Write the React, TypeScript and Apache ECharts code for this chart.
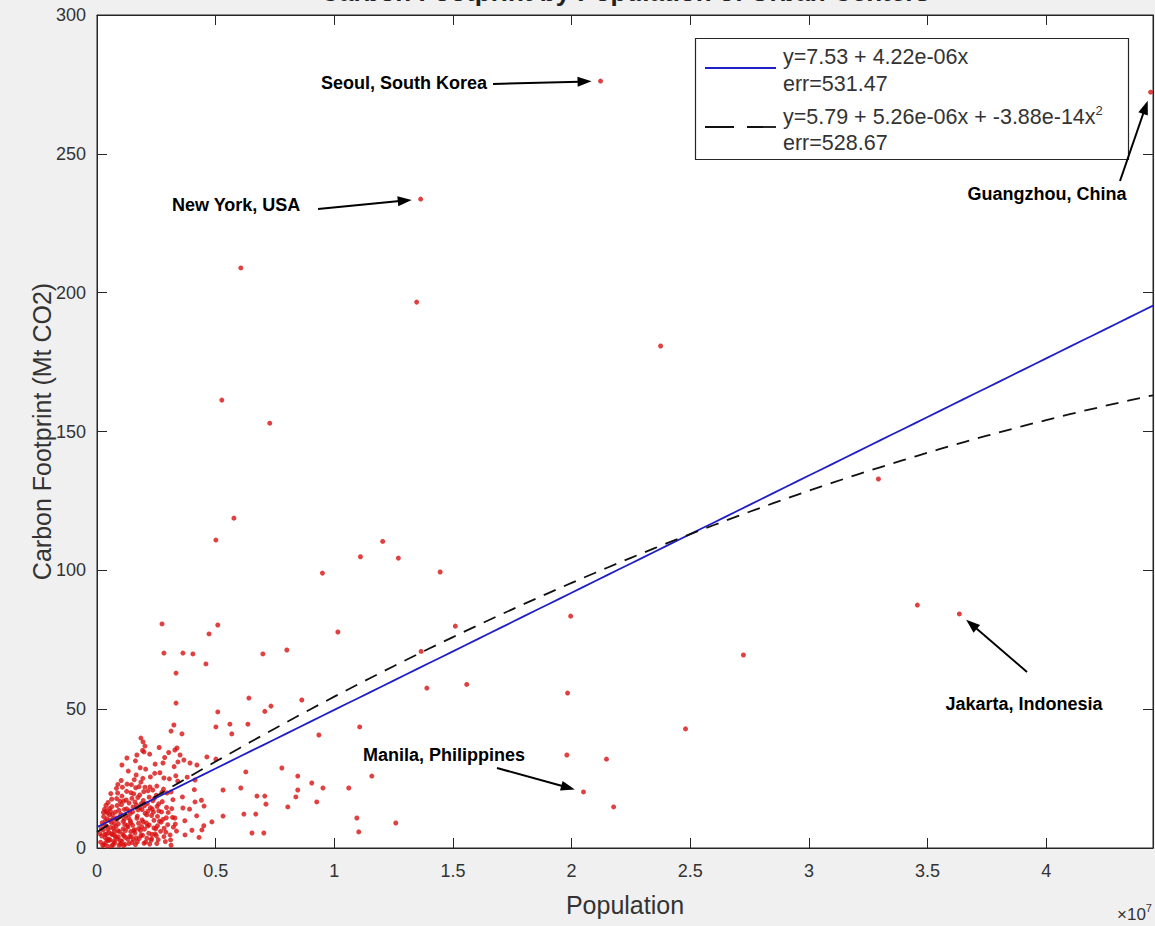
import React, { useEffect, useRef } from "react";
import * as echarts from "echarts";

// population in millions, carbon footprint in Mt CO2
const labelledCities: [string, number, number][] = [
  ["Seoul, South Korea", 21.22, 276.2],
  ["Guangzhou, China", 44.4, 272.2],
  ["New York, USA", 13.64, 233.7],
  ["Jakarta, Indonesia", 36.34, 84.3],
  ["Manila, Philippines", 20.5, 20.2],
];

const largeCities: [number, number][] = [
  [6.06, 208.9], [13.47, 196.6], [23.75, 180.8], [5.26, 161.3], [7.28, 153.0],
  [32.93, 132.9], [5.77, 118.8], [5.01, 110.9], [12.04, 110.4], [11.1, 104.9],
  [12.7, 104.4], [9.5, 99.0], [14.46, 99.4], [15.1, 79.9], [13.66, 70.8],
  [19.96, 83.5], [27.24, 69.5], [13.9, 57.6], [15.58, 58.9], [19.83, 55.8],
  [24.8, 42.9], [19.8, 33.5], [21.47, 32.0], [21.77, 14.8], [34.57, 87.5],
];

const midCities: [number, number][] = [
  [2.74, 80.7], [5.09, 80.3], [4.72, 77.1], [2.82, 70.2], [3.62, 70.2], [4.04, 69.9],
  [4.59, 66.3], [3.33, 63.0], [3.33, 52.2], [5.09, 49.0], [6.4, 54.0], [6.99, 69.9],
  [8.0, 71.3], [7.07, 49.2], [7.33, 51.1], [8.63, 53.3], [10.15, 77.8], [3.24, 44.3],
  [3.12, 42.1], [3.58, 41.1], [5.01, 43.6], [5.6, 44.6], [5.68, 41.1], [6.36, 44.6],
  [9.35, 40.7], [11.07, 43.6], [6.27, 27.4], [7.79, 28.8], [8.46, 25.9], [9.05, 23.4],
  [9.52, 21.6], [11.58, 25.9], [10.61, 21.6], [8.46, 20.9], [8.38, 18.4], [9.26, 16.6],
  [8.04, 14.8], [5.31, 20.9], [6.06, 21.6], [6.74, 18.7], [7.07, 18.7], [7.12, 15.8],
  [6.19, 12.2], [6.69, 12.2], [5.31, 11.5], [4.51, 15.1], [4.13, 16.6], [3.62, 14.4],
  [3.28, 10.8], [10.95, 10.8], [12.59, 9.0], [11.03, 5.8], [6.53, 5.4], [7.03, 5.4],
  [4.84, 9.4], [4.42, 6.5], [3.71, 4.7], [3.37, 36.0], [2.78, 30.6], [3.28, 35.3],
  [3.5, 33.5], [3.41, 31.0], [3.66, 31.7], [3.92, 30.6], [4.21, 29.9], [4.63, 32.8],
  [5.01, 32.0], [4.13, 24.5],
];

const smallCities: [number, number][] = [
  [0.5, 3.2], [0.6, 5.1], [0.7, 2.4], [0.8, 7.8], [0.9, 4.0], [1.0, 1.5], [1.1, 9.6], [1.2, 6.3],
  [1.3, 3.1], [1.4, 12.4], [1.5, 8.2], [1.6, 5.4], [1.7, 2.2], [1.8, 14.6], [1.9, 10.1], [2.0, 6.8],
  [2.1, 3.5], [2.2, 18.3], [2.3, 11.7], [2.4, 7.2], [2.5, 4.4], [2.6, 15.9], [2.7, 9.3], [2.8, 21.2],
  [2.9, 5.7], [3.0, 12.8], [3.1, 2.9], [3.2, 17.4], [3.3, 8.6], [3.4, 24.1],
  [0.45, 6.7], [0.55, 9.9], [0.65, 12.1], [0.75, 4.6], [0.85, 15.3], [0.95, 11.2], [1.05, 18.7],
  [1.15, 13.9], [1.25, 20.4], [1.35, 16.2], [1.45, 22.8], [1.55, 19.5], [1.65, 26.3], [1.75, 8.9],
  [1.85, 23.7], [1.95, 17.1], [2.05, 28.4], [2.15, 13.3], [2.25, 25.6], [2.35, 20.9], [2.45, 30.2],
  [2.55, 11.4], [2.65, 27.1], [2.75, 16.7], [2.85, 32.6], [2.95, 19.8], [3.05, 24.9], [3.15, 14.2],
  [3.25, 29.3], [3.35, 6.1],
  [0.35, 1.8], [0.4, 4.9], [0.48, 2.7], [0.58, 7.4], [0.68, 1.1], [0.78, 3.9], [0.88, 6.2],
  [0.98, 2.6], [1.08, 5.0], [1.18, 1.3], [1.28, 8.1], [1.38, 4.2], [1.48, 2.0], [1.58, 6.6],
  [1.68, 10.7], [1.78, 3.4], [1.88, 7.7], [1.98, 1.7], [2.08, 9.0], [2.18, 5.3], [2.28, 2.8],
  [2.38, 12.9], [2.48, 7.0], [2.58, 3.0], [2.68, 6.0], [2.78, 10.3], [2.88, 2.3], [2.98, 8.4],
  [3.08, 4.7], [3.18, 11.0],
  [0.42, 10.5], [0.52, 14.2], [0.62, 17.6], [0.72, 8.8], [0.82, 21.5], [0.92, 13.6], [1.02, 24.3],
  [1.12, 16.9], [1.22, 11.8], [1.32, 27.7], [1.42, 5.9], [1.52, 14.8], [1.62, 31.4], [1.72, 18.2],
  [1.82, 28.9], [1.92, 35.1], [2.02, 21.9], [2.12, 16.0], [2.22, 33.8], [2.32, 4.9], [2.42, 17.9],
  [2.52, 22.3], [2.62, 36.2], [2.72, 13.0], [2.82, 25.2], [2.92, 10.9], [3.02, 34.4], [3.12, 20.2],
  [3.22, 7.5], [3.32, 26.0],
  [1.05, 29.9], [1.26, 32.4], [1.68, 33.5], [1.98, 34.6], [2.02, 36.7], [1.85, 39.6], [1.94, 38.2],
  [3.6, 18.4], [3.7, 9.8], [3.8, 25.5], [3.9, 14.0], [4.0, 6.4], [4.1, 21.0], [4.2, 11.6],
  [4.3, 3.8], [4.4, 17.2], [4.5, 8.0],
  [0.3, 8.3], [0.38, 13.1], [0.62, 0.8], [0.82, 10.2], [1.12, 0.9], [1.42, 9.1], [1.62, 1.2],
  [1.92, 4.6], [2.22, 1.4], [2.52, 1.6], [2.82, 4.1], [3.12, 1.0], [0.58, 19.6], [0.88, 22.9],
];

const denseCore: [number, number][] = [
  [0.15, 2.1], [0.2, 4.3], [0.25, 6.5], [0.3, 1.2], [0.35, 3.7], [0.4, 7.9], [0.45, 0.6], [0.5, 5.6],
  [0.55, 2.9], [0.6, 9.2], [0.65, 4.8], [0.7, 7.1], [0.75, 1.9], [0.8, 10.8], [0.85, 3.3], [0.9, 8.7],
  [0.95, 5.9], [1.0, 12.2], [1.05, 2.5], [1.1, 6.9], [1.15, 10.4], [1.2, 3.8], [1.25, 14.1], [1.3, 7.5],
  [1.35, 1.6], [1.4, 9.8], [1.45, 4.1], [1.5, 13.0], [1.55, 6.2], [1.6, 16.6], [1.65, 3.6], [1.7, 11.5],
  [1.75, 7.0], [1.8, 19.1], [1.85, 4.5], [1.9, 13.8], [1.95, 9.4], [2.0, 15.2], [2.05, 2.1], [2.1, 11.9],
  [2.15, 20.6], [2.2, 8.3], [2.25, 14.5], [2.3, 3.4], [2.35, 17.0], [2.4, 10.0], [2.45, 5.1], [2.5, 19.0],
  [2.55, 8.0], [2.6, 13.4], [0.22, 9.1], [0.28, 11.3], [0.33, 5.0], [0.38, 15.4], [0.43, 3.0],
  [0.53, 11.9], [0.63, 14.9], [0.73, 6.0], [0.83, 17.8], [0.93, 1.0], [1.03, 15.6], [1.13, 4.4],
  [1.23, 17.3], [1.33, 10.9], [1.43, 19.9], [1.53, 3.0], [1.63, 21.7], [1.73, 13.7], [1.83, 6.3],
  [1.93, 25.1], [2.03, 12.5], [2.13, 7.9], [2.23, 22.0], [2.33, 14.0], [2.43, 26.9], [2.53, 15.0],
  [2.63, 9.7], [2.73, 20.0], [2.83, 7.1], [2.93, 14.6],
  [0.12, 5.2], [0.18, 7.0], [0.24, 0.9], [0.27, 12.8], [0.32, 14.0], [0.36, 9.8], [0.44, 12.6],
  [0.47, 16.4], [0.57, 13.3], [0.67, 10.6], [0.77, 12.9], [0.87, 19.8], [0.97, 16.8], [1.07, 21.9],
  [1.17, 8.5], [1.27, 23.0], [1.37, 13.4], [1.47, 17.9], [1.57, 24.6], [1.67, 15.4], [1.77, 22.1],
  [1.87, 16.0], [1.97, 20.3],
];

// fit coefficients in persons: y = c0 + c1 x + c2 x^2
const linearCoef = [7.53, 4.22e-6, 0];
const quadCoef = [5.79, 5.26e-6, -3.88e-14];
const linearLabel = ["y=7.53 + 4.22e-06x", "err=531.47"];
const quadLabel = ["y=5.79 + 5.26e-06x + -3.88e-14x", "err=528.67"];

const xTickValues = [0, 5, 10, 15, 20, 25, 30, 35, 40];
const X_MAX = 44.5;

function fitLine(coef: number[]) {
  const pts: [number, number][] = [];
  for (let i = 0; i <= 89; i++) {
    const xm = (X_MAX * i) / 89;
    const x = xm * 1e6;
    pts.push([xm, coef[0] + coef[1] * x + coef[2] * x * x]);
  }
  return pts;
}

// annotation layout (pixels): text anchor, arrow tail
const annotationLayout: Record<string, { tx: number; ty: number; align: string; ax: number; ay: number }> = {
  "Seoul, South Korea": { tx: 487, ty: 83, align: "right", ax: 493, ay: 84 },
  "Guangzhou, China": { tx: 1047, ty: 194, align: "center", ax: 1120, ay: 181 },
  "New York, USA": { tx: 172, ty: 205, align: "left", ax: 318, ay: 209 },
  "Jakarta, Indonesia": { tx: 1024, ty: 704, align: "center", ax: 1027, ay: 672 },
  "Manila, Philippines": { tx: 444, ty: 755, align: "center", ax: 497, ay: 768 },
};

const FONT = "'Liberation Sans', Arial, Helvetica, sans-serif";
const AXIS_COLOR = "#262626";
const TEXT_COLOR = "#333";

export default function App() {
  const ref = useRef<HTMLDivElement>(null);
  useEffect(() => {
    if (!ref.current) return;
    const chart = echarts.init(ref.current, undefined, { renderer: "svg" });
    const allPoints = [
      ...denseCore,
      ...smallCities,
      ...midCities,
      ...largeCities,
      ...labelledCities.map((c) => [c[1], c[2]] as [number, number]),
    ];
    const axisCommon = {
      type: "value" as const,
      axisLine: { show: true, onZero: false, lineStyle: { color: AXIS_COLOR, width: 1 } },
      axisTick: { show: true, inside: true, length: 10, lineStyle: { color: AXIS_COLOR } },
      splitLine: { show: false },
    };
    chart.setOption({
      animation: false,
      backgroundColor: "#f0f0f0",
      grid: {
        left: 97, right: 2, top: 15, bottom: 78,
        show: true, backgroundColor: "#ffffff", borderColor: AXIS_COLOR, borderWidth: 1,
      },
      xAxis: [
        {
          ...axisCommon, min: 0, max: X_MAX, interval: 5, position: "bottom",
          axisLabel: {
            color: TEXT_COLOR, fontSize: 18, fontFamily: FONT, margin: 14, showMaxLabel: false,
            formatter: (v: number) => (xTickValues.includes(v) ? String(v / 10) : ""),
          },
          name: "Population", nameLocation: "middle", nameGap: 44, nameMoveOverlap: false,
          nameTextStyle: { color: TEXT_COLOR, fontSize: 25, fontFamily: FONT },
        },
        {
          ...axisCommon, min: 0, max: X_MAX, interval: 5, position: "top",
          axisLabel: { show: false },
        },
      ],
      yAxis: [
        {
          ...axisCommon, min: 0, max: 300, interval: 50, position: "left",
          axisLabel: { color: TEXT_COLOR, fontSize: 18, fontFamily: FONT, margin: 11 },
          name: "Carbon Footprint (Mt CO2)", nameLocation: "middle", nameGap: 43, nameMoveOverlap: false,
          nameTextStyle: { color: TEXT_COLOR, fontSize: 25, fontFamily: FONT },
        },
        {
          ...axisCommon, min: 0, max: 300, interval: 50, position: "right",
          axisLabel: { show: false },
        },
      ],
      series: [
        {
          type: "scatter", data: allPoints, symbolSize: 5,
          itemStyle: { color: "#d81010" }, z: 2,
        },
        {
          type: "line", data: fitLine(linearCoef), showSymbol: false, symbol: "none",
          lineStyle: { color: "#1f1fc8", width: 1.8 }, z: 3,
        },
        {
          type: "line", data: fitLine(quadCoef), showSymbol: false, symbol: "none",
          lineStyle: { color: "#111", width: 1.8, type: [13, 9] }, z: 3,
        },
      ],
    });

    const graphics: any[] = [];
    // title (clipped at top of the figure, as in the reference)
    graphics.push({
      type: "text", x: 625, y: 5,
      style: {
        text: "Carbon Footprint by Population of Urban Centers",
        font: `bold 26px ${FONT}`, fill: "#222", align: "center", verticalAlign: "bottom",
      },
    });
    // legend box
    graphics.push({
      type: "rect", shape: { x: 695.5, y: 38.5, width: 433, height: 121 },
      style: { fill: "#fff", stroke: AXIS_COLOR, lineWidth: 1.2 }, z: 10,
    });
    graphics.push({
      type: "line", shape: { x1: 705, y1: 68, x2: 776, y2: 68 },
      style: { stroke: "#1f1fc8", lineWidth: 1.8 }, z: 11,
    });
    graphics.push({
      type: "line", shape: { x1: 705, y1: 127, x2: 776, y2: 127 },
      style: { stroke: "#111", lineWidth: 1.8, lineDash: [29, 13] }, z: 11,
    });
    const legendText = (t: string, y: number) => ({
      type: "text", x: 783, y, z: 11,
      style: { text: t, font: `21.5px ${FONT}`, fill: TEXT_COLOR, verticalAlign: "middle" },
    });
    graphics.push(legendText(linearLabel[0], 57));
    graphics.push(legendText(linearLabel[1], 84));
    graphics.push({
      type: "text", x: 783, y: 117, z: 11,
      style: {
        text: `${quadLabel[0]}{sup|2}`,
        font: `21.5px ${FONT}`, fill: TEXT_COLOR, verticalAlign: "middle",
        rich: { sup: { fontSize: 13, fontFamily: FONT, fill: TEXT_COLOR, padding: [0, 0, 13, 0] } },
      },
    });
    graphics.push(legendText(quadLabel[1], 143));
    // x10^7 exponent
    graphics.push({
      type: "text", x: 1117, y: 914,
      style: {
        text: "\u00d710{sup|7}", font: `17px ${FONT}`, fill: TEXT_COLOR, verticalAlign: "middle",
        rich: { sup: { fontSize: 11, fontFamily: FONT, fill: TEXT_COLOR, padding: [0, 0, 13, 0] } },
      },
    });
    // annotations with arrows
    labelledCities.forEach(([name, px, val]) => {
      const lay = annotationLayout[name];
      const p = chart.convertToPixel({ xAxisIndex: 0, yAxisIndex: 0 }, [px, val]) as number[];
      const dx = p[0] - lay.ax;
      const dy = p[1] - lay.ay;
      const len = Math.sqrt(dx * dx + dy * dy);
      const ux = dx / len, uy = dy / len;
      const hx = p[0] - ux * 9, hy = p[1] - uy * 9;
      const headLen = 14, headW = 5;
      const bx = hx - ux * headLen, by = hy - uy * headLen;
      graphics.push({
        type: "line", shape: { x1: lay.ax, y1: lay.ay, x2: bx + ux * 2, y2: by + uy * 2 },
        style: { stroke: "#000", lineWidth: 2 }, z: 12,
      });
      graphics.push({
        type: "polygon",
        shape: { points: [[hx, hy], [bx - uy * headW, by + ux * headW], [bx + uy * headW, by - ux * headW]] },
        style: { fill: "#000" }, z: 12,
      });
      graphics.push({
        type: "text", x: lay.tx, y: lay.ty, z: 12,
        style: { text: name, font: `bold 18px ${FONT}`, fill: "#000", align: lay.align, verticalAlign: "middle" },
      });
    });
    chart.setOption({ graphic: graphics });
    return () => chart.dispose();
  }, []);
  return <div ref={ref} style={{ position: "absolute", left: 0, top: 0, width: 1155, height: 926 }} />;
}
